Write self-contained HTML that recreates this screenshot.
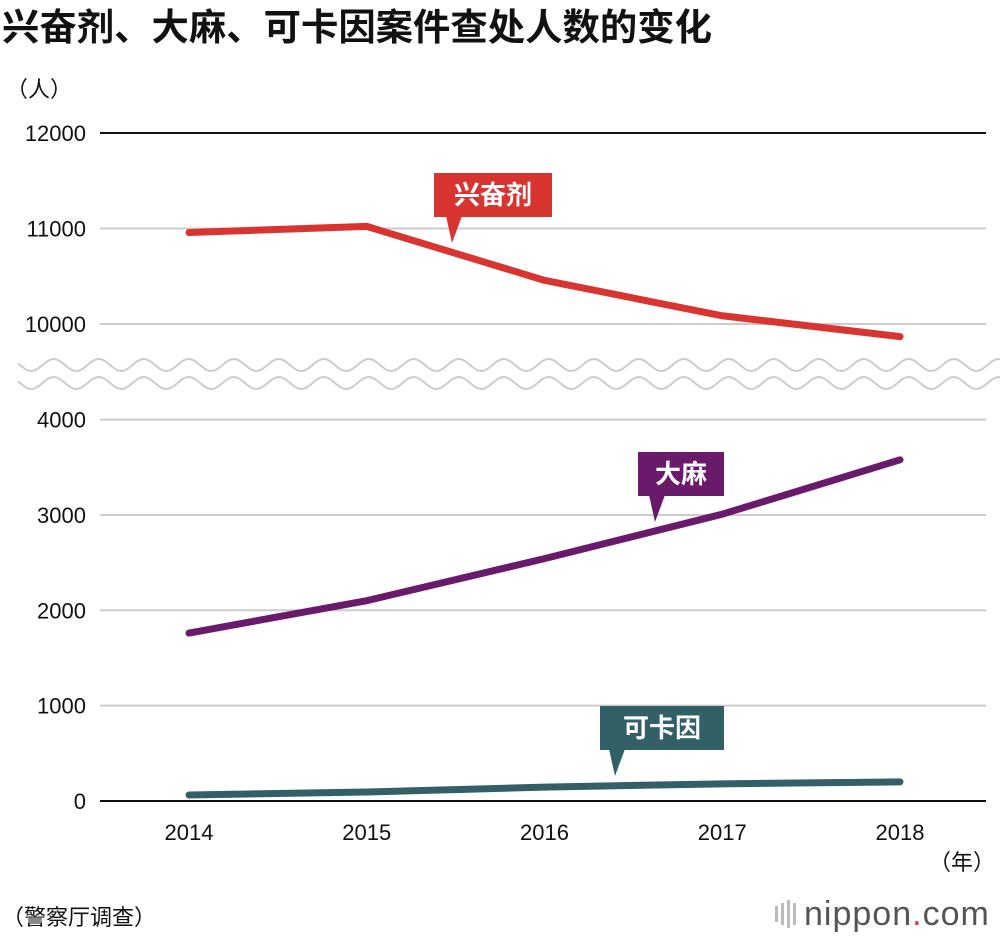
<!DOCTYPE html>
<html><head><meta charset="utf-8"><style>
body{margin:0;background:#fff;}
svg text{font-family:"Liberation Sans","Noto Sans CJK SC",sans-serif;}
</style></head><body>
<svg width="1000" height="936" viewBox="0 0 1000 936">
<text x="2" y="40" font-size="37" font-weight="bold" fill="#111" textLength="710" lengthAdjust="spacingAndGlyphs">兴奋剂、大麻、可卡因案件查处人数的变化</text>
<text x="6" y="97" font-size="22" fill="#111">（人）</text>
<text x="995" y="870" font-size="22" fill="#111" text-anchor="end">（年）</text>
<text x="2" y="925" font-size="22" fill="#111">（警察厅调查）</text>
<g>
<rect x="775" y="906" width="3" height="16" fill="#bbb"/><rect x="781" y="903" width="3" height="22" fill="#bbb"/><rect x="787" y="900" width="3" height="28" fill="#bbb"/><rect x="793" y="903" width="3" height="22" fill="#bbb"/>
<text x="804" y="925" font-size="34" fill="#555" letter-spacing="1">nippon<tspan fill="#d33">.</tspan>com</text>
</g>
<g id="grid"></g>
<g>
<path id="brkfill" fill="#fff" stroke="none"/>
<path id="brk1" fill="none" stroke="#ccc" stroke-width="2"/>
<path id="brk2" fill="none" stroke="#ccc" stroke-width="2"/>
</g>
<g id="yt"></g><g id="xt"></g><g id="lines"></g><g id="labels"></g>
</svg>
<script>
const years=[2014,2015,2016,2017,2018];
const stimulants=[10958,11022,10457,10086,9868];
const cannabis=[1761,2101,2542,3008,3578];
const cocaine=[63,94,146,180,200];
const yTicks=[0,1000,2000,3000,4000,10000,11000,12000];
const NS='http://www.w3.org/2000/svg';
function X(i){return 189+i*177.75;}
function Y(v){return v>=9000? 324-(v-10000)*0.0955 : 801-v*0.09535;}
function mk(t,a,p){const e=document.createElementNS(NS,t);for(const k in a)e.setAttribute(k,a[k]);p.appendChild(e);return e;}
const g=document.getElementById('grid'),yt=document.getElementById('yt'),xt=document.getElementById('xt');
yTicks.forEach(v=>{const y=Y(v);const dark=(v===0||v===12000);
const l=mk('line',{x1:100,x2:986,y1:y,y2:y,stroke:dark?'#111':'#ccc','stroke-width':2},g);


const t=mk('text',{x:86,y:y+8,'font-size':22,'text-anchor':'end',fill:'#111'},yt);t.textContent=v;

});
years.forEach((yr,i)=>{const t=mk('text',{x:X(i),y:840,'font-size':22,'text-anchor':'middle',fill:'#111'},xt);t.textContent=yr;

});
let a='',b='',rb='';const amp=6,per=45;
for(let x=18;x<=1000;x+=2){const s=Math.sin((x-20)/per*2*Math.PI)*amp;a+=(x===18?'M':'L')+x+','+(365+s);b+=(x===18?'M':'L')+x+','+(383+s);rb='L'+x+','+(383+s)+rb;}
document.getElementById('brk1').setAttribute('d',a);
document.getElementById('brk2').setAttribute('d',b);
document.getElementById('brkfill').setAttribute('d',a+rb+'Z');
const lines=document.getElementById('lines');
[[stimulants,'#d83531','stimulants-line'],[cannabis,'#6a1a6b','cannabis-line'],[cocaine,'#335f66','cocaine-line']].forEach(([arr,c,n])=>{
const p=mk('polyline',{points:arr.map((v,i)=>X(i)+','+Y(v)).join(' '),fill:'none',stroke:c,'stroke-width':7,'stroke-linecap':'round','stroke-linejoin':'round'},lines);

});
const lab=document.getElementById('labels');
[['兴奋剂','#d83531',434,173,118,452,243,'stimulants-label'],['大麻','#6a1a6b',638,452,86,655,522,'cannabis-label'],['可卡因','#335f66',600,706,124,615,776,'cocaine-label']].forEach(([s,c,x,y,w,px,py,n])=>{
const gg=mk('g',{},lab);


mk('rect',{x:x,y:y,width:w,height:44,fill:c},gg);
mk('path',{d:`M${px-6},${y+43} L${px+10},${y+43} L${px},${py} Z`,fill:c},gg);
const t=mk('text',{x:x+w/2,y:y+31,'font-size':26,'font-weight':'bold','text-anchor':'middle',fill:'#fff'},gg);t.textContent=s;});
</script>
</body></html>
